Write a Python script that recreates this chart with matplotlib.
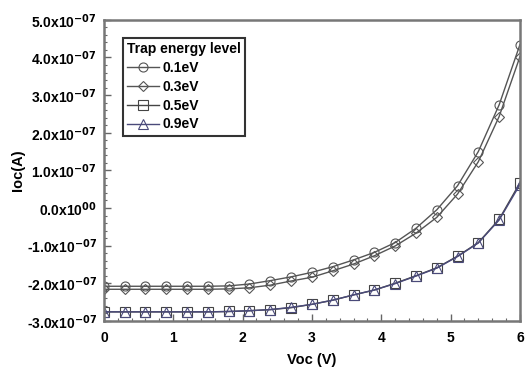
import matplotlib
matplotlib.use('Agg')
import matplotlib.pyplot as plt
from matplotlib.ticker import MultipleLocator, FuncFormatter

plt.rcParams['font.family'] = ['Liberation Sans', 'DejaVu Sans']
plt.rcParams['font.weight'] = 'bold'
plt.rcParams['mathtext.default'] = 'bf'

# Voc (V) sweep
voc = [0.0, 0.3, 0.6, 0.9, 1.2, 1.5, 1.8, 2.1, 2.4, 2.7, 3.0,
       3.3, 3.6, 3.9, 4.2, 4.5, 4.8, 5.1, 5.4, 5.7, 6.0]

# Ioc in units of 1e-7 A, one list per trap energy level
ioc_01 = [-2.08, -2.08, -2.08, -2.08, -2.08, -2.08, -2.07, -2.02, -1.93, -1.83, -1.71,
          -1.56, -1.38, -1.18, -0.92, -0.54, -0.05, 0.59, 1.50, 2.74, 4.34]
ioc_03 = [-2.16, -2.16, -2.16, -2.16, -2.16, -2.16, -2.15, -2.12, -2.05, -1.94, -1.84,
          -1.67, -1.49, -1.27, -1.01, -0.67, -0.25, 0.37, 1.23, 2.43, 4.02]
ioc_05 = [-2.76, -2.76, -2.76, -2.76, -2.76, -2.76, -2.75, -2.73, -2.70, -2.65, -2.56,
          -2.45, -2.31, -2.18, -2.00, -1.80, -1.59, -1.28, -0.92, -0.30, 0.67]
ioc_09 = [-2.76, -2.76, -2.76, -2.76, -2.76, -2.76, -2.75, -2.73, -2.70, -2.64, -2.56,
          -2.45, -2.31, -2.18, -2.01, -1.81, -1.60, -1.29, -0.93, -0.32, 0.62]

labels = ['0.1eV', '0.3eV', '0.5eV', '0.9eV']
markers = ['o', 'D', 's', '^']
colors = ['#555555', '#555555', '#444444', '#4a4a7a']

fig = plt.figure(figsize=(5.3, 3.74), dpi=100)
ax = fig.add_axes([0.196, 0.142, 0.785, 0.805])

for ys, lab, m, c in zip([ioc_01, ioc_03, ioc_05, ioc_09], labels, markers, colors):
    ms = 5 if m == 'D' else 6.5
    ax.plot(voc, [v * 1e-7 for v in ys], color=c, lw=1.0, marker=m,
            markersize=ms, markerfacecolor='none', markeredgecolor=c,
            markeredgewidth=0.8, label=lab)

ax.set_xlim(0, 6)
ax.set_ylim(-3e-7, 5e-7)
ax.xaxis.set_major_locator(MultipleLocator(1))
ax.xaxis.set_minor_locator(MultipleLocator(0.2))
ax.yaxis.set_major_locator(MultipleLocator(1e-7))
ax.yaxis.set_minor_locator(MultipleLocator(0.2e-7))


def fmt(v, pos):
    m = v / 1e-7
    if abs(m) < 1e-9:
        return r'0.0x10$^{00}$'
    return r'%.1fx10$^{-07}$' % m


ax.yaxis.set_major_formatter(FuncFormatter(fmt))
ax.tick_params(which='both', direction='in', colors='#666666', labelcolor='black',
               labelsize=10)
ax.tick_params(which='major', length=5, width=1)
ax.tick_params(which='minor', length=2.5, width=0.8)
ax.tick_params(axis='x', pad=7)
ax.tick_params(axis='y', pad=5)
for s in ax.spines.values():
    s.set_color('#777777')
    s.set_linewidth(1.8)

ax.set_xlabel('Voc (V)', fontsize=10.5, fontweight='bold', labelpad=6)
ax.set_ylabel('Ioc(A)', fontsize=10.5, fontweight='bold', labelpad=1)

leg = ax.legend(loc='upper left', bbox_to_anchor=(0.045, 0.94), title='Trap energy level',
                fontsize=10, title_fontsize=10, frameon=True, fancybox=False,
                handlelength=2.3, handletextpad=0.3, labelspacing=0.35,
                borderpad=0.3, borderaxespad=0)
leg.get_title().set_fontweight('bold')
leg.get_frame().set_edgecolor('black')
leg.get_frame().set_linewidth(1.5)
leg._legend_box.align = 'left'

fig.savefig('out.png', dpi=100)
